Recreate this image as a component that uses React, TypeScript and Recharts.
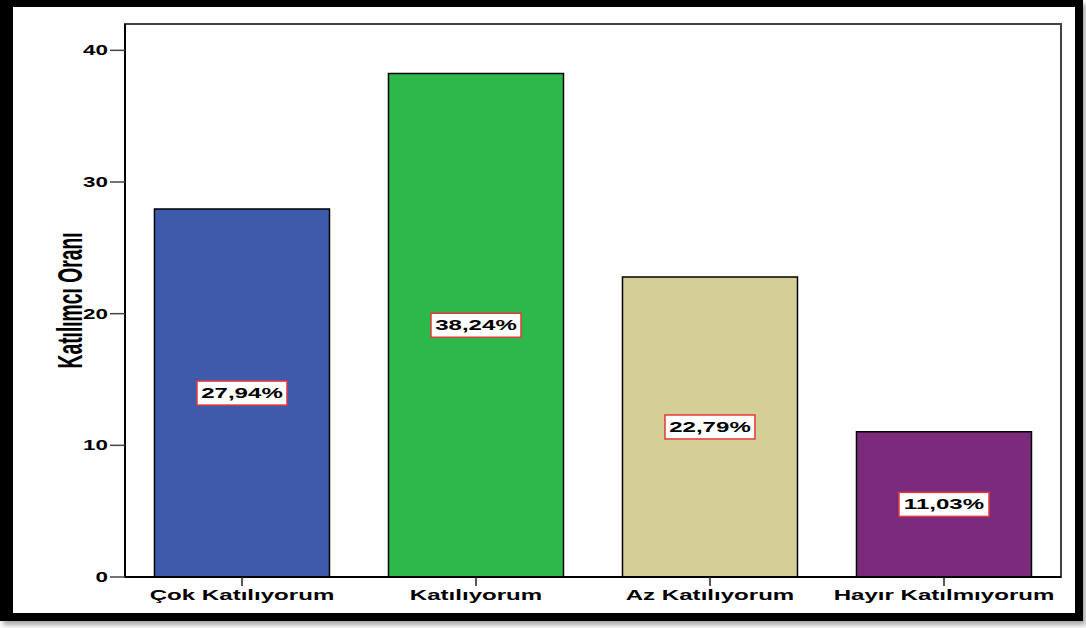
import { BarChart, Bar, XAxis, YAxis, Cell, LabelList, ReferenceArea, Label } from 'recharts';

const categories = ['Çok Katılıyorum', 'Katılıyorum', 'Az Katılıyorum', 'Hayır Katılmıyorum'];
const values = [27.94, 38.24, 22.79, 11.03];
const labels = ['27,94%', '38,24%', '22,79%', '11,03%'];
const colors = ['#3f59ab', '#2eb84b', '#d4cf97', '#7b2a7c'];
const yTicks = [0, 10, 20, 30, 40];

const data = categories.map((name, i) => ({ name, value: values[i], label: labels[i] }));

const FONT = "'Liberation Sans', Arial, sans-serif";
const STRETCH = 1.72;

function XTick({ x, y, payload }: any) {
  return (
    <g transform={`translate(${x},${y})`}>
      <text transform={`scale(${STRETCH},1)`} dy={12} textAnchor="middle" fontFamily={FONT} fontWeight="bold" fontSize={14} fill="#000">
        {payload.value}
      </text>
    </g>
  );
}

function YTick({ x, y, payload }: any) {
  return (
    <g transform={`translate(${x},${y})`}>
      <text transform={`scale(1.6,1)`} dy={5} textAnchor="end" fontFamily={FONT} fontWeight="bold" fontSize={14} fill="#000">
        {payload.value}
      </text>
    </g>
  );
}

function BoxLabel({ x, y, width, height, value }: any) {
  const cx = x + width / 2;
  const cy = y + height / 2;
  return (
    <g>
      <rect x={cx - 45} y={cy - 12} width={90} height={24} fill="#fff" stroke="#e23a3a" strokeWidth={1.5} />
      <g transform={`translate(${cx},${cy})`}>
        <text transform={`scale(${STRETCH},1)`} dy={5} textAnchor="middle" fontFamily={FONT} fontWeight="bold" fontSize={14} fill="#000">
          {value}
        </text>
      </g>
    </g>
  );
}

function YTitle({ viewBox }: any) {
  const cy = viewBox.y + viewBox.height / 2;
  return (
    <g transform={`translate(70,${cy}) scale(1.7,1) rotate(-90)`}>
      <text dy={7} textAnchor="middle" fontFamily={FONT} fontWeight="bold" fontSize={21} fill="#000" textLength={136} lengthAdjust="spacingAndGlyphs">
        Katılımcı Oranı
      </text>
    </g>
  );
}

export default function App() {
  return (
    <div style={{ position: 'absolute', left: 0, top: 0, width: 1086, height: 628 }}>
      <div
        style={{
          position: 'absolute', left: 0, top: 0, width: 1083, height: 621, boxSizing: 'border-box',
          background: '#fff', borderStyle: 'solid', borderColor: '#000',
          borderWidth: '7px 8px 8px 13px', boxShadow: '3px 4px 5px rgba(0,0,0,0.35)',
        }}
      />
      <div style={{ position: 'absolute', left: 0, top: 0 }}>
        <BarChart width={1086} height={628} data={data} margin={{ top: 24, right: 25, bottom: 11, left: 0 }} barCategoryGap="12.6%">
          <ReferenceArea y1={0} y2={42} fill="none" stroke="#444" strokeWidth={2} ifOverflow="visible" />
          <XAxis
            dataKey="name" height={40} tick={<XTick />} tickSize={9}
            axisLine={{ stroke: '#000', strokeWidth: 2 }} tickLine={{ stroke: '#222', strokeWidth: 1.5 }}
          />
          <YAxis
            width={125} domain={[0, 42]} ticks={yTicks} tick={<YTick />} tickSize={15}
            axisLine={{ stroke: '#000', strokeWidth: 2 }} tickLine={{ stroke: '#444', strokeWidth: 1.5 }}
          >
            <Label content={<YTitle />} />
          </YAxis>
          <Bar dataKey="value" stroke="#000" strokeWidth={1.5} isAnimationActive={false}>
            {data.map((d, i) => <Cell key={d.name} fill={colors[i]} />)}
            <LabelList dataKey="label" content={<BoxLabel />} />
          </Bar>
        </BarChart>
      </div>
    </div>
  );
}
